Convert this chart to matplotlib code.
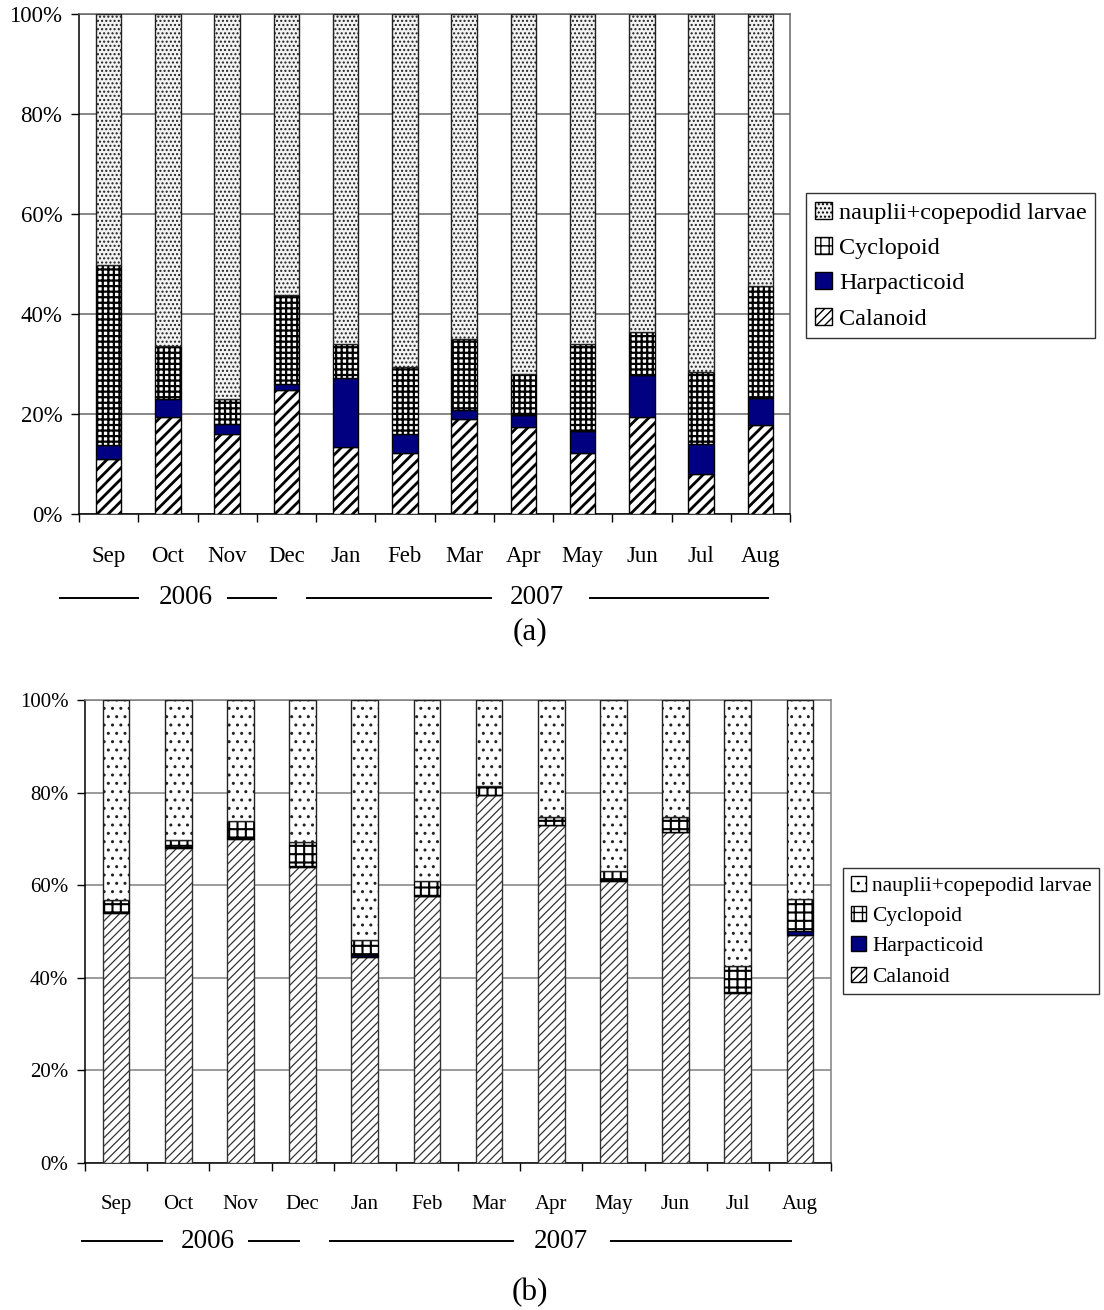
#!/usr/bin/env python3
"""
Copepod composition by month
Stacked percentage bars for two stations, Sep 2006 - Aug 2007
"""

import matplotlib
matplotlib.use("Agg")
import matplotlib.pyplot as plt
from matplotlib.lines import Line2D
from matplotlib.patches import Patch
import numpy as np

months = ['Sep', 'Oct', 'Nov', 'Dec', 'Jan', 'Feb', 'Mar', 'Apr', 'May', 'Jun', 'Jul', 'Aug']
groups = ['nauplii+copepodid larvae', 'Cyclopoid', 'Harpacticoid', 'Calanoid']

# panel (a), percent of total copepods
calanoid_a = [11.1, 19.5, 16.0, 24.8, 13.5, 12.3, 19.0, 17.5, 12.3, 19.5, 8.1, 17.8]
harpacticoid_a = [2.7, 3.5, 2.1, 1.3, 13.8, 3.7, 1.8, 2.3, 4.3, 8.4, 5.9, 5.4]
cyclopoid_a = [36.0, 10.6, 5.0, 17.7, 6.8, 13.4, 14.3, 8.3, 17.4, 8.5, 14.4, 22.4]

# panel (b)
calanoid_b = [54.0, 68.0, 69.9, 64.0, 44.5, 57.6, 79.4, 72.9, 61.0, 71.4, 36.8, 49.2]
harpacticoid_b = [0.3, 0.2, 0.2, 0.2, 0.5, 0.1, 0.1, 0.1, 0.1, 0.1, 0.1, 0.9]
cyclopoid_b = [2.5, 1.6, 3.7, 5.1, 3.1, 3.3, 2.0, 1.7, 2.0, 3.3, 5.6, 7.0]

W, H = 1104, 1310
SERIF = ['Liberation Serif', 'DejaVu Serif']
NAVY = '#000080'

plt.rcParams['font.family'] = SERIF


def rect(l, t, r, b):
    """pixel box -> figure fraction [left, bottom, width, height]"""
    return [l / W, 1 - b / H, (r - l) / W, (b - t) / H]


def set_hatch_lw(patches, lw):
    for p in patches:
        if hasattr(p, 'set_hatch_linewidth'):
            p.set_hatch_linewidth(lw)


def draw_panel(fig, box, cal, harp, cyc, style):
    ax = fig.add_axes(rect(*box))
    x = np.arange(len(months))
    cal = np.array(cal)
    harp = np.array(harp)
    cyc = np.array(cyc)
    base2 = cal + harp
    base3 = base2 + cyc
    naup = 100 - base3

    with plt.rc_context({'hatch.linewidth': style['cal_hlw']}):
        b1 = ax.bar(x, cal, width=0.43, color='white', edgecolor=style['cal_ec'],
                    hatch=style['cal_hatch'], linewidth=1, zorder=3)
    set_hatch_lw(b1, style['cal_hlw'])
    b2 = ax.bar(x, harp, bottom=cal, width=0.43, color=NAVY, edgecolor='black',
                linewidth=1, zorder=3)
    with plt.rc_context({'hatch.linewidth': style['cyc_hlw']}):
        b3 = ax.bar(x, cyc, bottom=base2, width=0.43, color='white', edgecolor='black',
                    hatch=style['cyc_hatch'], linewidth=1, zorder=3)
    set_hatch_lw(b3, style['cyc_hlw'])
    with plt.rc_context({'hatch.linewidth': 1.0}):
        b4 = ax.bar(x, naup, bottom=base3, width=0.43, color=style['naup_fc'],
                    edgecolor='#222222', hatch=style['naup_hatch'], linewidth=1, zorder=3)
    set_hatch_lw(b4, 1.0)

    ax.set_xlim(-0.5, len(months) - 0.5)
    ax.set_ylim(0, 100)
    ax.set_yticks(np.arange(0, 101, 20))
    ax.set_yticklabels([f'{v}%' for v in range(0, 101, 20)], fontsize=style['tick_fs'])
    ax.yaxis.grid(True, color=style['grid'], linewidth=1.1, zorder=0)
    ax.set_axisbelow(True)

    ax.set_xticks(x)
    ax.set_xticklabels(months, fontsize=style['tick_fs'])
    ax.set_xticks(np.arange(-0.5, len(months)), minor=True)
    ax.tick_params(axis='x', which='major', length=0, pad=style['xpad'])
    ax.tick_params(axis='x', which='minor', length=6, width=1, direction='out')
    ax.tick_params(axis='y', length=6, width=1, direction='out', pad=6)

    for side in ['left', 'bottom']:
        ax.spines[side].set_color('black')
        ax.spines[side].set_linewidth(1.1)
    for side in ['top', 'right']:
        ax.spines[side].set_color(style['grid'])
        ax.spines[side].set_linewidth(1.1)

    handles = [
        Patch(facecolor=style['naup_fc'], edgecolor='black', hatch=style['naup_hatch']),
        Patch(facecolor='white', edgecolor='black', hatch='++'),
        Patch(facecolor=NAVY, edgecolor='black'),
        Patch(facecolor='white', edgecolor='black', hatch='////'),
    ]
    lx, ly = style['legend_at']
    leg = fig.legend(handles, groups, loc='upper left',
                     bbox_to_anchor=(lx / W, 1 - ly / H), bbox_transform=fig.transFigure,
                     fontsize=style['leg_fs'], frameon=True, fancybox=False,
                     edgecolor='black', handlelength=0.7, handleheight=0.7,
                     handletextpad=0.3, labelspacing=style['leg_sp'], borderpad=0.35,
                     borderaxespad=0)
    leg.get_frame().set_linewidth(1.0)
    return ax


def year_bar(fig, y, segments, labels, tag, tag_y, fs):
    for x0, x1 in segments:
        fig.add_artist(Line2D([x0 / W, x1 / W], [1 - y / H] * 2,
                              transform=fig.transFigure, color='black', linewidth=1.4))
    for xc, txt in labels:
        fig.text(xc / W, 1 - y / H, txt, ha='center', va='center', fontsize=fs)
    fig.text(530 / W, 1 - tag_y / H, tag, ha='center', va='center', fontsize=fs + 3)


fig = plt.figure(figsize=(W / 100, H / 100), dpi=100)
fig.patch.set_facecolor('white')

style_a = dict(cal_hatch='///', cal_hlw=2.0, cal_ec='black', cyc_hatch='+++', cyc_hlw=1.6,
               naup_hatch='....', naup_fc='#f3f3f3', grid='#666666', tick_fs=16.5,
               xpad=23, leg_fs=17.5, leg_sp=0.55, legend_at=(806, 193))
style_b = dict(cal_hatch='////', cal_hlw=0.9, cal_ec='#333333', cyc_hatch='++', cyc_hlw=1.5,
               naup_hatch='..', naup_fc='white', grid='#808080', tick_fs=15,
               xpad=23, leg_fs=15.5, leg_sp=0.48, legend_at=(843, 868))

draw_panel(fig, (79, 14, 790, 514), calanoid_a, harpacticoid_a, cyclopoid_a, style_a)
draw_panel(fig, (85, 700, 831, 1163), calanoid_b, harpacticoid_b, cyclopoid_b, style_b)

year_bar(fig, 598, [(60, 138), (228, 276), (307, 491), (590, 768)],
         [(186, '2006'), (537, '2007')], '(a)', 632, 19.5)
year_bar(fig, 1241, [(82, 162), (249, 299), (330, 513), (611, 791)],
         [(208, '2006'), (561, '2007')], '(b)', 1293, 19.5)

fig.savefig('out.png', dpi=100, facecolor='white')
plt.close(fig)
print("saved out.png")
